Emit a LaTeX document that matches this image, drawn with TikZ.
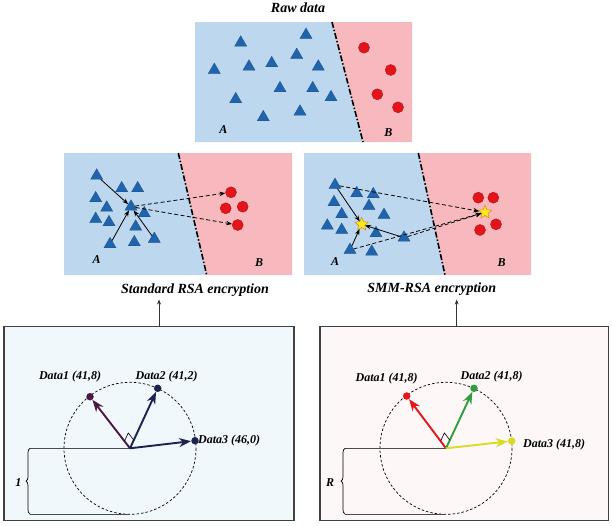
\documentclass[tikz,border=0pt]{standalone}
\usepackage{fontspec}
\setmainfont{Liberation Serif}
\usetikzlibrary{shapes.geometric,arrows.meta,decorations.pathreplacing,calc}
\definecolor{panelblue}{HTML}{BDD7EE}
\definecolor{panelpink}{HTML}{F7B9BD}
\definecolor{triblue}{HTML}{1F64AC}
\definecolor{dotred}{HTML}{E5141B}
\definecolor{boxblue}{HTML}{F1F8FC}
\definecolor{boxpink}{HTML}{FDF7F7}
\definecolor{vpurple}{HTML}{4A1840}
\definecolor{vnavy}{HTML}{1C2250}
\definecolor{vred}{HTML}{E3161C}
\definecolor{vgreen}{HTML}{2E9E3C}
\definecolor{vyellow}{HTML}{DADA22}
\definecolor{starfill}{HTML}{FFE81A}
\definecolor{staredge}{HTML}{D08A1A}
\tikzset{
  tri/.style={regular polygon, regular polygon sides=3, fill=triblue, draw=triblue!80!black, line width=0.3, inner sep=0pt, minimum size=14},
  reddot/.style={circle, fill=dotred, draw=dotred!75!black, line width=0.4, inner sep=0pt, minimum size=11},
  staricon/.style={star, star points=5, star point ratio=2.2, fill=starfill, draw=staredge, line width=0.5, inner sep=0pt, minimum size=14},
  divider/.style={line width=1.6, black, dash pattern=on 6 off 2 on 1.5 off 2},
  thinarr/.style={-{Stealth[length=6,width=4.5]}, line width=0.8, black},
  dasharr/.style={-{Stealth[length=6,width=4.5]}, line width=0.8, black, dash pattern=on 4 off 2.5},
  lbl/.style={font=\fontsize{12}{14}\selectfont\bfseries\itshape, inner sep=1pt},
  captxt/.style={font=\fontsize{14}{16}\selectfont\bfseries\itshape, inner sep=1pt},
  vec/.style={-{Stealth[length=12,width=9]}, line width=1.9},
  enddot/.style={circle, inner sep=0pt, minimum size=7.5},
  frame/.style={draw=black!75, line width=1.1},
  guide/.style={line width=0.4, black!70},
}
\begin{document}
\begin{tikzpicture}[x=1pt,y=-1pt]
\useasboundingbox (0,0) rectangle (612,525);

% ---------------- Top panel: Raw data
\fill[panelblue] (195,22) -- (332,22) -- (363,142) -- (195,142) -- cycle;
\fill[panelpink] (332,22) -- (412,22) -- (412,142) -- (363,142) -- cycle;
\coordinate (tdA) at (332,22);
\coordinate (tdB) at (363,142);
\draw[divider] (tdA) -- (tdB);
\node[captxt] (rawtitle) at (298,8) {Raw data};
\foreach \n/\x/\y in {1/240.7/42.7, 2/306/35, 3/296.7/55, 4/271.7/63.3, 5/249/66.7, 6/214.3/70, 7/318.3/66.7, 8/280/88.3, 9/312.7/88.3, 10/331/97.3, 11/235.7/99.3, 12/300/111.7, 13/263.3/117.3}
  \node[tri] (tt\n) at (\x,\y) {};
\foreach \n/\x/\y in {1/364/47.7, 2/390.7/70, 3/377.3/94.3, 4/398/107.3}
  \node[reddot] (tc\n) at (\x,\y) {};
\node[lbl] (tA) at (223.3,129.3) {A};
\node[lbl] (tB) at (388.3,133) {B};

% ---------------- Middle left: Standard RSA
\fill[panelblue] (64,153) -- (178.3,153) -- (206.7,275) -- (64,275) -- cycle;
\fill[panelpink] (178.3,153) -- (292,153) -- (292,275) -- (206.7,275) -- cycle;
\coordinate (mldA) at (178.3,153);
\coordinate (mldB) at (206.7,275);
\draw[divider] (mldA) -- (mldB);
\foreach \n/\x/\y in {1/96.7/175.7, 2/121.7/188.3, 3/137.7/188.3, 4/95.7/198.3, 5/106.7/207.7, 6/144.3/213.3, 7/95.7/219, 8/109/222.3, 9/135.7/226.7, 10/110/244.3, 11/134.3/242.3, 12/154.3/239}
  \node[tri] (ml\n) at (\x,\y) {};
\node[tri] (mlc) at (131,206.7) {};
\foreach \n/\x/\y in {1/231/192.3, 2/225.7/208.3, 3/242.7/206.7, 4/237.7/225}
  \node[reddot] (mc\n) at (\x,\y) {};
\draw[thinarr] (ml1) -- (mlc);
\draw[thinarr] (ml10) -- (mlc);
\draw[thinarr] (ml12) -- (mlc);
\draw[dasharr] (mlc) -- (mc1);
\draw[dasharr] (mlc) -- (mc4);
\node[lbl] (mlA) at (96.7,260) {A};
\node[lbl] (mlB) at (259,263) {B};
\node[captxt] (capL) at (195,290) {Standard RSA encryption};

% ---------------- Middle right: SMM-RSA
\fill[panelblue] (304,153) -- (418.3,153) -- (445,275) -- (304,275) -- cycle;
\fill[panelpink] (418.3,153) -- (531,153) -- (531,275) -- (445,275) -- cycle;
\coordinate (mrdA) at (418.3,153);
\coordinate (mrdB) at (445,275);
\draw[divider] (mrdA) -- (mrdB);
\foreach \n/\x/\y in {1/335/185, 2/356.7/193.3, 3/373.3/194.3, 4/334/202.3, 5/369/206, 6/341.7/214.3, 7/384/215, 8/327.3/225.7, 9/341.7/230, 10/376/233.3, 11/404/237.7, 12/350/250, 13/371.7/251.7}
  \node[tri] (mr\n) at (\x,\y) {};
\foreach \n/\x/\y in {1/478.3/197.7, 2/493.3/197.7, 3/496/224.3, 4/480/230}
  \node[reddot] (mrc\n) at (\x,\y) {};
\node[staricon] (sA) at (361.7,224.3) {};
\node[staricon] (sB) at (485,212.3) {};
\draw[thinarr] (mr1) -- (sA);
\draw[thinarr] (mr11) -- (sA);
\draw[thinarr] (mr12) -- (sA);
\draw[dasharr] (mr1) -- (sB);
\draw[dasharr] (mr12) -- (sB);
\draw[dasharr] (mr11) -- (sB);
\node[lbl] (mrA) at (335,261.7) {A};
\node[lbl] (mrB) at (501.7,263) {B};
\node[captxt] (capR) at (431.7,289.3) {SMM-RSA encryption};

% ---------------- Bottom left box
\draw[frame, fill=boxblue] (4,326.7) rectangle (294,520.7);
\coordinate (lup0) at (159,326.7);
\coordinate (lup1) at (159,299.5);
\draw[-{Stealth[length=5,width=4]}, line width=0.8, black!80] (lup0) -- (lup1);
\coordinate (c1) at (130,448.3);
\draw[line width=0.7, dash pattern=on 2.5 off 2] (c1) circle[radius=66];
\coordinate (l1t) at (30,448.3);
\coordinate (l1b) at (30,514);
\coordinate (l1e) at (130,514);
\draw[guide] (l1t) -- (c1);
\draw[guide] (l1b) -- (l1e);
\draw[decorate, decoration={brace, amplitude=4}, line width=0.7] (l1b) -- (l1t);
\node[lbl] (one) at (18.3,483) {1};
\node[enddot, fill=vpurple] (ld1) at (90,396.7) {};
\node[enddot, fill=vnavy] (ld2) at (157.7,388.3) {};
\node[enddot, fill=vnavy] (ld3) at (195,440.7) {};
\draw[vec, vpurple] (c1) -- (ld1);
\draw[vec, vnavy] (c1) -- (ld2);
\draw[vec, vnavy] (c1) -- (ld3);
\coordinate (la) at ($(c1)!9pt!(ld1)$);
\coordinate (lb) at ($(c1)!9pt!(ld2)$);
\draw[line width=0.6] (la) -- ($(la)+(lb)-(c1)$) -- (lb);
\node[lbl] (ll1) at (70,377) {Data1 (41,8)};
\node[lbl] (ll2) at (166.7,377) {Data2 (41,2)};
\node[lbl, anchor=west] (ll3) at (197,440.7) {Data3 (46,0)};

% ---------------- Bottom right box
\draw[frame, fill=boxpink] (320,326.7) rectangle (608.3,520.7);
\coordinate (rup0) at (456.7,326.7);
\coordinate (rup1) at (456.7,299.5);
\draw[-{Stealth[length=5,width=4]}, line width=0.8, black!80] (rup0) -- (rup1);
\coordinate (c2) at (446,448.3);
\draw[line width=0.7, dash pattern=on 2.5 off 2] (c2) circle[radius=66];
\coordinate (r1t) at (345,448.3);
\coordinate (r1b) at (345,514);
\coordinate (r1e) at (446,514);
\draw[guide] (r1t) -- (c2);
\draw[guide] (r1b) -- (r1e);
\draw[decorate, decoration={brace, amplitude=4}, line width=0.7] (r1b) -- (r1t);
\node[lbl] (rR) at (330,483) {R};
\node[enddot, fill=vred] (rd1) at (406.7,396) {};
\node[enddot, fill=vgreen] (rd2) at (474,388.3) {};
\node[enddot, fill=vyellow] (rd3) at (511.7,441) {};
\draw[vec, vred] (c2) -- (rd1);
\draw[vec, vgreen] (c2) -- (rd2);
\draw[vec, vyellow] (c2) -- (rd3);
\coordinate (ra) at ($(c2)!9pt!(rd1)$);
\coordinate (rb) at ($(c2)!9pt!(rd2)$);
\draw[line width=0.6] (ra) -- ($(ra)+(rb)-(c2)$) -- (rb);
\node[lbl] (rl1) at (386.7,379) {Data1 (41,8)};
\node[lbl] (rl2) at (491.7,377) {Data2 (41,8)};
\node[lbl, anchor=west] (rl3) at (522,444.5) {Data3 (41,8)};
\end{tikzpicture}
\end{document}
